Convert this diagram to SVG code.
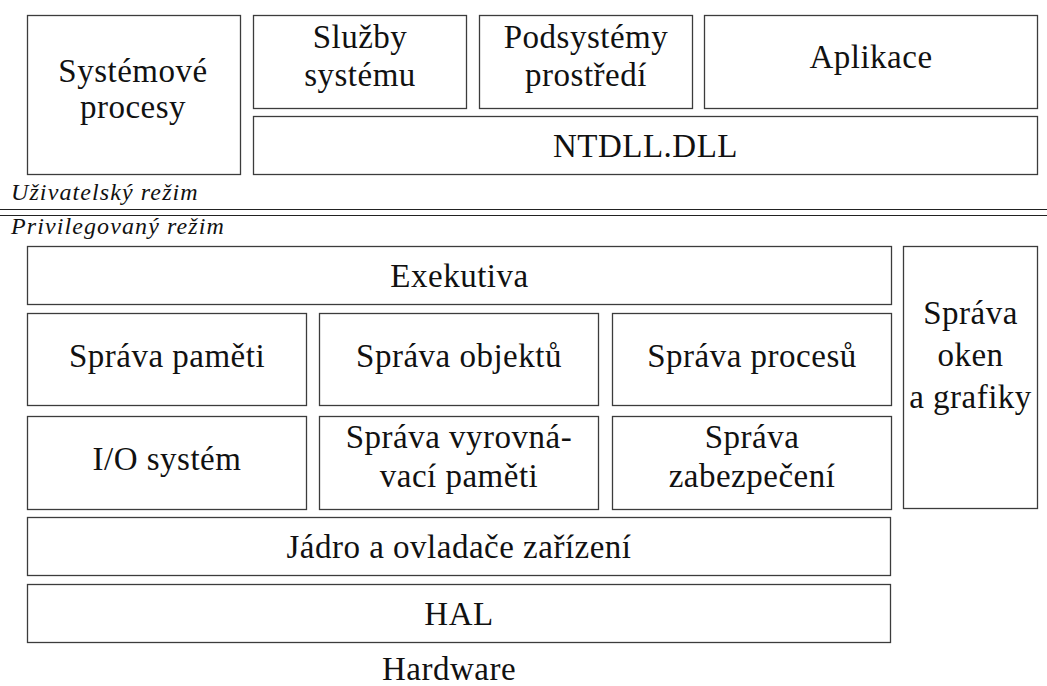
<svg xmlns="http://www.w3.org/2000/svg" width="1047" height="686" viewBox="0 0 1047 686">
  <style>
    .box { fill: #ffffff; stroke: #3c3c3c; stroke-width: 1.3; }
    .lbl { font-family: "Liberation Serif", "Times New Roman", serif; font-size: 33px; letter-spacing: 0.5px; fill: #111111; text-anchor: middle; }
    .mode { font-family: "Liberation Serif", "Times New Roman", serif; font-style: italic; font-size: 24px; letter-spacing: 1.1px; fill: #111111; }
    .sep { stroke: #222222; stroke-width: 1.2; }
  </style>
  <rect width="1047" height="686" fill="#ffffff"/>

  <!-- user mode -->
  <g id="systemove-procesy">
    <rect class="box" x="27.5" y="15.5" width="213" height="159"/>
    <text class="lbl" x="133" y="82">Systémové</text>
    <text class="lbl" x="133" y="118">procesy</text>
  </g>
  <g id="sluzby-systemu">
    <rect class="box" x="253.5" y="15.5" width="213" height="93"/>
    <text class="lbl" x="360" y="48">Služby</text>
    <text class="lbl" x="360" y="86">systému</text>
  </g>
  <g id="podsystemy-prostredi">
    <rect class="box" x="479.5" y="15.5" width="213" height="93"/>
    <text class="lbl" x="586" y="48">Podsystémy</text>
    <text class="lbl" x="586" y="86">prostředí</text>
  </g>
  <g id="aplikace">
    <rect class="box" x="704.5" y="15.5" width="333" height="93"/>
    <text class="lbl" x="871" y="68">Aplikace</text>
  </g>
  <g id="ntdll">
    <rect class="box" x="253.5" y="116.5" width="784" height="58"/>
    <text class="lbl" x="645.5" y="157">NTDLL.DLL</text>
  </g>

  <!-- mode boundary -->
  <g id="boundary">
    <line class="sep" x1="0" y1="209.5" x2="1047" y2="209.5"/>
    <line class="sep" x1="0" y1="215.5" x2="1047" y2="215.5"/>
    <text class="mode" x="11" y="200">Uživatelský režim</text>
    <text class="mode" x="11" y="234">Privilegovaný režim</text>
  </g>

  <!-- kernel mode -->
  <g id="exekutiva">
    <rect class="box" x="27.5" y="246.5" width="864" height="58"/>
    <text class="lbl" x="459.5" y="287">Exekutiva</text>
  </g>
  <g id="sprava-pameti">
    <rect class="box" x="27.5" y="313.5" width="279" height="92"/>
    <text class="lbl" x="167" y="367">Správa paměti</text>
  </g>
  <g id="sprava-objektu">
    <rect class="box" x="319.5" y="313.5" width="279" height="92"/>
    <text class="lbl" x="459" y="367">Správa objektů</text>
  </g>
  <g id="sprava-procesu">
    <rect class="box" x="612.5" y="313.5" width="279" height="92"/>
    <text class="lbl" x="752" y="367">Správa procesů</text>
  </g>
  <g id="io-system">
    <rect class="box" x="27.5" y="416.5" width="279" height="93"/>
    <text class="lbl" x="167" y="470">I/O systém</text>
  </g>
  <g id="sprava-cache">
    <rect class="box" x="319.5" y="416.5" width="279" height="93"/>
    <text class="lbl" x="459" y="448">Správa vyrovná-</text>
    <text class="lbl" x="459" y="487">vací paměti</text>
  </g>
  <g id="sprava-zabezpeceni">
    <rect class="box" x="612.5" y="416.5" width="279" height="93"/>
    <text class="lbl" x="752" y="448">Správa</text>
    <text class="lbl" x="752" y="487">zabezpečení</text>
  </g>
  <g id="sprava-oken">
    <rect class="box" x="903.5" y="246.5" width="134" height="262"/>
    <text class="lbl" x="970.5" y="324">Správa</text>
    <text class="lbl" x="970.5" y="366">oken</text>
    <text class="lbl" x="970.5" y="408">a grafiky</text>
  </g>
  <g id="jadro">
    <rect class="box" x="27.5" y="517.5" width="863" height="58"/>
    <text class="lbl" x="459" y="558">Jádro a ovladače zařízení</text>
  </g>
  <g id="hal">
    <rect class="box" x="27.5" y="584.5" width="863" height="58"/>
    <text class="lbl" x="459" y="625">HAL</text>
  </g>
  <g id="hardware">
    <text class="lbl" x="449" y="680">Hardware</text>
  </g>

  <!-- the layers touch by adjacency only; no connectors are drawn -->
  <g id="connectors"/>
</svg>
